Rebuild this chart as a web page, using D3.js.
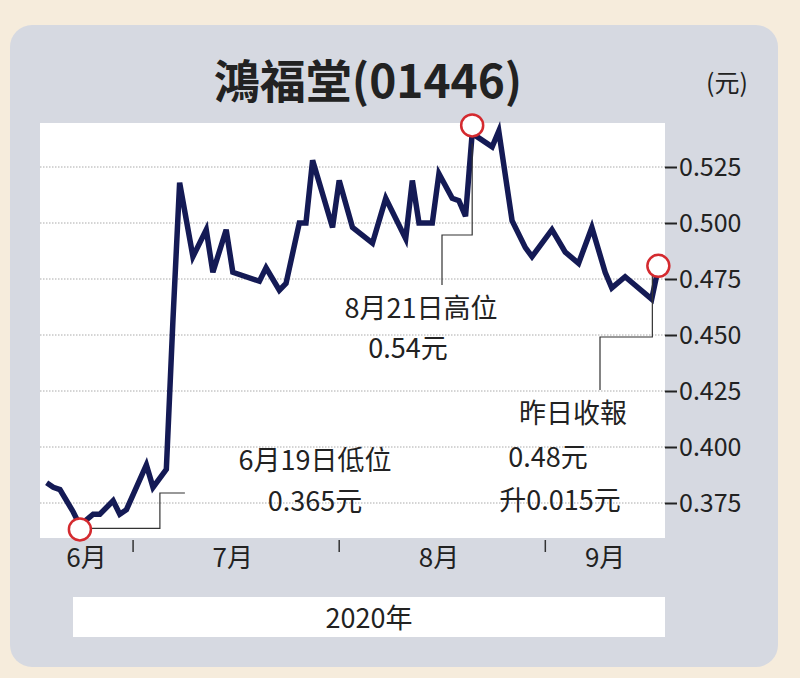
<!DOCTYPE html><html><head><meta charset="utf-8">
<script src="https://cdn.jsdelivr.net/npm/d3@7"></script>
<style>body{margin:0;background:#f6ecdc}</style></head><body>
<svg id="c" width="800" height="678"></svg>
<script>
const dates=["2020-06-18","2020-06-19","2020-06-20","2020-06-22","2020-06-23","2020-06-25","2020-06-26","2020-06-28","2020-06-29","2020-06-30",
"2020-07-03","2020-07-04","2020-07-06","2020-07-07","2020-07-08","2020-07-10","2020-07-12","2020-07-13","2020-07-15","2020-07-16",
"2020-07-20","2020-07-21","2020-07-23","2020-07-24","2020-07-26","2020-07-27","2020-07-28","2020-07-31",
"2020-08-01","2020-08-03","2020-08-06","2020-08-08","2020-08-11","2020-08-12","2020-08-13","2020-08-15","2020-08-16","2020-08-18",
"2020-08-19","2020-08-20","2020-08-21","2020-08-24","2020-08-25","2020-08-27","2020-08-29","2020-08-30",
"2020-09-02","2020-09-04","2020-09-06","2020-09-08","2020-09-10","2020-09-11","2020-09-13","2020-09-17","2020-09-18"];
const prices=[0.384,0.382,0.381,0.371,0.365,0.370,0.370,0.376,0.370,0.372,
0.392,0.382,0.390,0.457,0.518,0.485,0.497,0.478,0.497,0.478,
0.474,0.480,0.470,0.473,0.500,0.500,0.528,0.498,
0.519,0.498,0.491,0.511,0.493,0.519,0.500,0.500,0.522,0.511,
0.510,0.503,0.540,0.534,0.541,0.501,0.489,0.485,
0.497,0.487,0.482,0.498,0.478,0.471,0.476,0.466,0.480];
const yTicks=[0.375,0.400,0.425,0.450,0.475,0.500,0.525];
const monthLabels=[["2020-06-24","6月"],["2020-07-16","7月"],["2020-08-16","8月"],["2020-09-10","9月"]];
const monthBounds=["2020-07-01","2020-08-01","2020-09-01"];
const markIdx=[4,40,54];

const P=d3.timeParse("%Y-%m-%d");
const svg=d3.select("#c");
const F="'Noto Sans CJK TC','Noto Sans',sans-serif";
svg.append("rect").attr("x",10).attr("y",25).attr("width",768).attr("height",642).attr("rx",22).attr("fill","#d6d9e1");
const L=40,R=665,T=123,B=538;
svg.append("rect").attr("x",L).attr("y",T).attr("width",R-L).attr("height",B-T).attr("fill","#fff");
const x=d3.scaleTime().domain([P("2020-06-17"),P("2020-09-19")]).range([L,R]);
const y=d3.scaleLinear().domain([0.375,0.525]).range([503,167]);
svg.append("g").selectAll("line").data(yTicks).join("line").attr("x1",L).attr("x2",R)
 .attr("y1",d=>y(d)).attr("y2",d=>y(d)).attr("stroke","#aaa").attr("stroke-dasharray","1.5,1.5");
const ya=svg.append("g").attr("transform",`translate(${R},0)`).call(d3.axisRight(y).tickValues(yTicks).tickFormat(d3.format(".3f")).tickSize(12).tickPadding(2));
ya.select(".domain").remove();
ya.selectAll("line").attr("stroke","#222").attr("stroke-width",2);
ya.selectAll("text").attr("font-family",F).attr("font-size",25).attr("fill","#222");
svg.append("text").attr("x",727).attr("y",92).attr("text-anchor","middle").attr("font-family",F).attr("font-size",25).attr("fill","#222").text("(元)");
svg.append("text").attr("x",368).attr("y",98).attr("text-anchor","middle").attr("font-family",F).attr("font-size",46).attr("font-weight","bold").attr("fill","#222").text("鴻福堂(01446)");
svg.append("g").selectAll("line").data(monthBounds).join("line").attr("x1",d=>x(P(d))).attr("x2",d=>x(P(d)))
 .attr("y1",540).attr("y2",552).attr("stroke","#333").attr("stroke-width",1.5);
svg.append("g").selectAll("text").data(monthLabels).join("text").attr("x",d=>x(P(d[0]))).attr("y",567)
 .attr("text-anchor","middle").attr("font-family",F).attr("font-size",26).attr("fill","#222").text(d=>d[1]);
svg.append("rect").attr("x",73).attr("y",597).attr("width",592).attr("height",40).attr("fill","#fff");
svg.append("text").attr("x",369).attr("y",628).attr("text-anchor","middle").attr("font-family",F).attr("font-size",27).attr("fill","#222").text("2020年");
const pts=dates.map((d,i)=>[x(P(d)),y(prices[i])]);
svg.append("path").attr("d",d3.line()(pts)).attr("fill","none").attr("stroke","#141a55").attr("stroke-width",5.5).attr("stroke-linejoin","miter");
const lead=a=>svg.append("path").attr("d",d3.line()(a)).attr("fill","none").attr("stroke","#333").attr("stroke-width",1.2);
const lo=pts[4],hi=pts[40],la=pts[54];
lead([[lo[0],lo[1]+3],[lo[0]+80,lo[1]+3],[lo[0]+80,493],[lo[0]+105,493]]);
lead([[hi[0],hi[1]+10],[hi[0],235],[442,235],[442,285]]);
lead([[la[0]-6,la[1]+8],[la[0]-6,337],[600,337],[600,390]]);
svg.append("g").selectAll("circle").data(markIdx).join("circle").attr("cx",i=>pts[i][0]).attr("cy",i=>pts[i][1]+(i===4?4:(i===40?-8:-2)))
 .attr("r",11).attr("fill","#fff").attr("stroke","#d42a2f").attr("stroke-width",2.5);
const txt=(tx,ty,s)=>svg.append("text").attr("x",tx).attr("y",ty).attr("text-anchor","middle").attr("font-family",F).attr("font-size",27).attr("fill","#222").text(s);
txt(315,470,"6月19日低位");txt(315,511,"0.365元");
txt(421,318,"8月21日高位");txt(408,358,"0.54元");
txt(573,423,"昨日收報");txt(548,467,"0.48元");txt(560,510,"升0.015元");
</script></body></html>
